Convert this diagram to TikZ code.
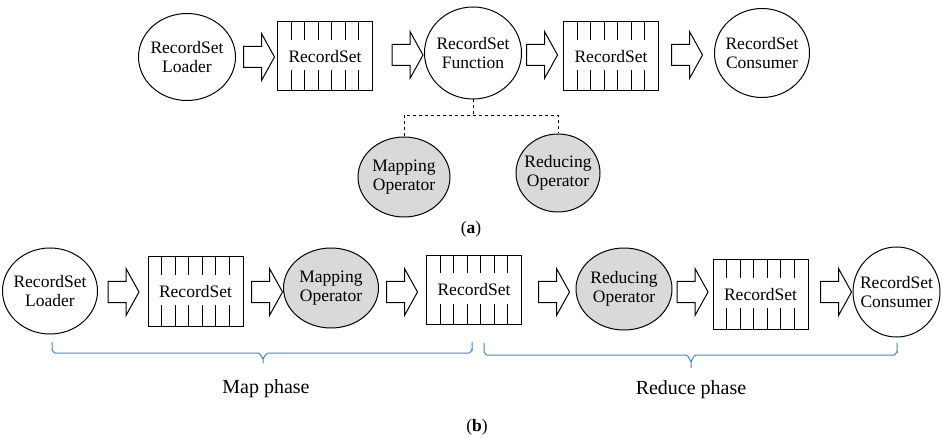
\documentclass[tikz,border=0pt]{standalone}
\usepackage{fontspec}
\setmainfont{Liberation Serif}
\usetikzlibrary{shapes.geometric,calc}
\definecolor{opgray}{RGB}{217,217,217}
\definecolor{braceblue}{RGB}{79,129,189}

\begin{document}
\begin{tikzpicture}[x=1pt,y=-1pt,
  every node/.style={font=\fontsize{17.5}{19}\selectfont, align=center, inner sep=0pt},
  proc/.style={ellipse, draw, line width=1pt, inner sep=-12pt},
  oper/.style={proc, fill=opgray},
  recset/.style={rectangle, draw, line width=1pt, minimum width=95pt, minimum height=69pt,
    path picture={
      \foreach \k in {1,...,6}{
        \coordinate (rs-top) at ($(path picture bounding box.north west)!\k/7!(path picture bounding box.north east)$);
        \coordinate (rs-bot) at ($(path picture bounding box.south west)!\k/7!(path picture bounding box.south east)$);
        \draw[line width=1pt] (rs-top) -- ++(0pt,-18pt) (rs-bot) -- ++(0pt,21pt);
      }
    }},
  arrowline/.style={draw, line width=1pt, line join=miter, fill=white},
  link/.style={dashed, line width=0.8pt},
  brace/.style={draw=braceblue, line width=1pt},
  caption/.style={font=\fontsize{20}{22}\selectfont},
  pics/blockarrow/.style={code={
    \draw[arrowline] (-15.5,-10.5) -- (2.5,-10.5) -- (2.5,-23.5) -- (15.5,0)
      -- (2.5,23.5) -- (2.5,10.5) -- (-15.5,10.5) -- cycle;}}
]
\useasboundingbox (0,0) rectangle (942,438);

% (a) RecordSet pipeline with a generic function
\node[proc, minimum width=97pt, minimum height=87pt] (loadA) at (187,57) {RecordSet\\Loader};
\pic at (259,57) {blockarrow};
\node[recset] (setA1) at (325,56.5) {RecordSet};
\pic at (407.5,55) {blockarrow};
\node[proc, minimum width=97pt, minimum height=92pt] (funcA) at (473,53) {RecordSet\\Function};
\pic at (542,55) {blockarrow};
\node[recset] (setA2) at (611,56.5) {RecordSet};
\pic at (687,55) {blockarrow};
\node[proc, minimum width=95pt, minimum height=89pt] (consA) at (762,53) {RecordSet\\Consumer};

\node[oper, minimum width=92pt, minimum height=80pt] (mapA) at (404,177) {Mapping\\Operator};
\node[oper, minimum width=84pt, minimum height=78pt] (redA) at (558,173) {Reducing\\Operator};

\coordinate (split) at ($(funcA.south)+(0,16)$);
\draw[link] (funcA.south) -- (split);
\draw[link] (mapA.north) -- (mapA |- split) -- (redA |- split) -- (redA.north);

\node (capA) at (471,229) {(\textbf{a})};

% (b) map and reduce phases
\node[proc, minimum width=95pt, minimum height=86pt] (loadB) at (50,291) {RecordSet\\Loader};
\pic at (123.5,292) {blockarrow};
\node[recset] (setB1) at (195.5,291.5) {RecordSet};
\pic at (267,292) {blockarrow};
\node[oper, minimum width=95pt, minimum height=80pt] (mapB) at (331,288) {Mapping\\Operator};
\pic at (402,292) {blockarrow};
\node[recset] (setB2) at (474,290) {RecordSet};
\pic at (554,292) {blockarrow};
\node[oper, minimum width=96pt, minimum height=82pt] (redB) at (624,289) {Reducing\\Operator};
\pic at (692.5,292) {blockarrow};
\node[recset] (setB3) at (760.5,294.5) {RecordSet};
\pic at (836,292) {blockarrow};
\node[proc, minimum width=87pt, minimum height=90pt] (consB) at (896.5,292) {RecordSet\\Consumer};

% phase brackets
\draw[brace] (52,342) -- (52,350) to[out=90,in=180] (55,353) -- (258,353)
  to[out=0,in=-90] (263,358) -- (263,363) (263,358) to[out=-90,in=180] (268,353)
  -- (469,353) to[out=0,in=90] (472,350) -- (472,342);
\draw[brace] (484,343) -- (484,352) to[out=90,in=180] (487,355) -- (686,355)
  to[out=0,in=-90] (691,361) -- (691,368) (691,361) to[out=-90,in=180] (696,355)
  -- (894,355) to[out=0,in=90] (897,352) -- (897,343);

\node[caption] (mapPhase) at (266,389) {Map phase};
\node[caption] (redPhase) at (691,390) {Reduce phase};
\node (capB) at (477,427) {(\textbf{b})};
\end{tikzpicture}
\end{document}
